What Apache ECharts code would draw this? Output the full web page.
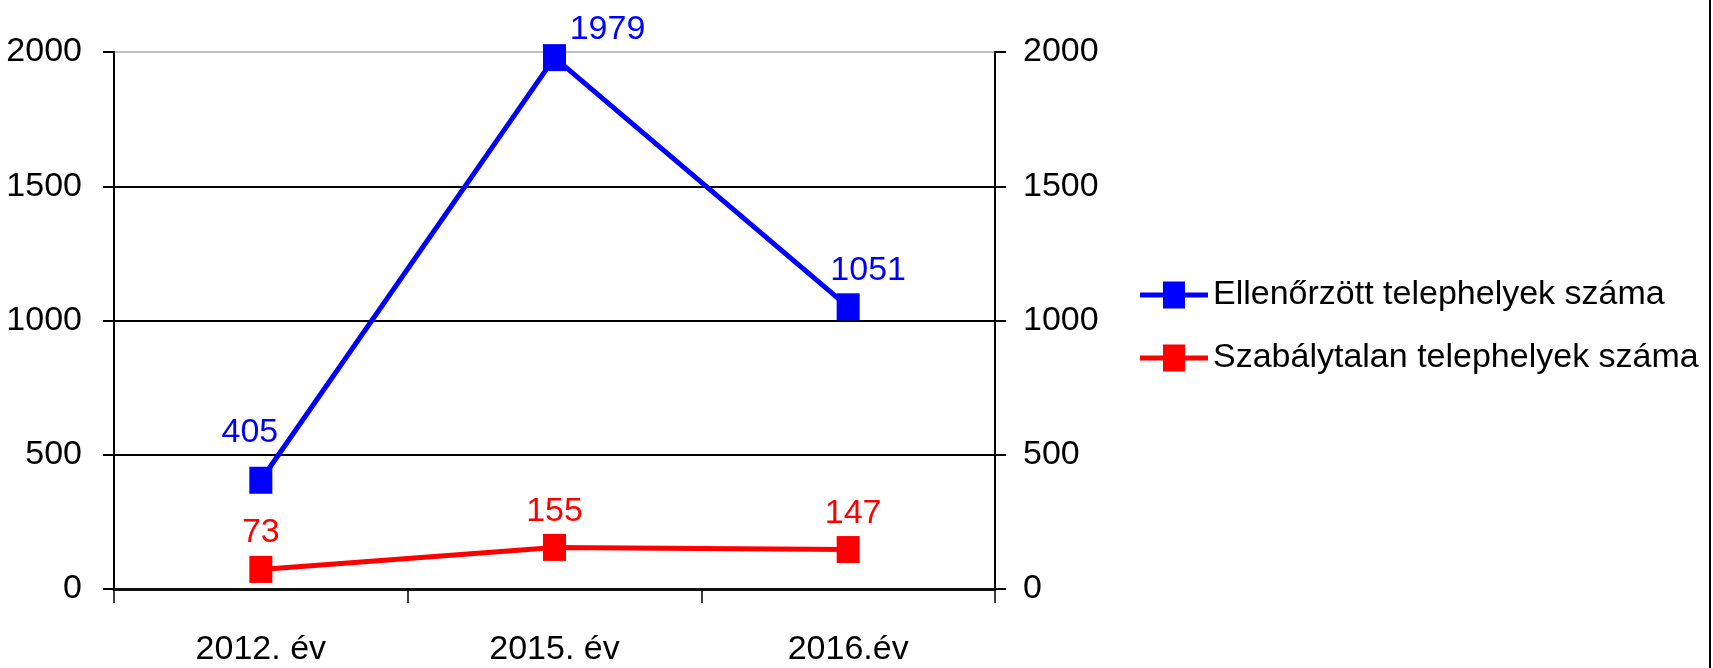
<!DOCTYPE html>
<html>
<head>
<meta charset="utf-8">
<script src="https://cdn.jsdelivr.net/npm/echarts@6/dist/echarts.min.js"></script>
<style>
  html, body { margin: 0; padding: 0; background: #fff; }
  #chart { width: 1713px; height: 668px; }
</style>
</head>
<body>
<div id="chart"></div>
<script>
  // adatok
  var categories = ['2012. év', '2015. év', '2016.év'];
  var ellenorzott = [405, 1979, 1051];
  var szabalytalan = [73, 155, 147];
  var seriesNames = ['Ellenőrzött telephelyek száma', 'Szabálytalan telephelyek száma'];

  var font = '"Liberation Sans", Arial, sans-serif';
  var fontSize = 34;

  // címkék eltolása pontonként
  var blueOffsets = [[-11, -12], [53, 7], [20, -1]];
  var redOffsets = [[0, -1], [0, 0], [5, 0]];

  // vonal + négyzet ikon a jelmagyarázathoz
  var legendIcon = 'path://M0,11h23v-11h22v11h23v5h-23v11h-22v-11h-23z';

  function withLabels (values, offsets) {
    return values.map(function (v, i) {
      return { value: v, label: { offset: offsets[i] } };
    });
  }

  function plain (v) {
    return String(v);
  }

  var myChart = echarts.init(document.getElementById('chart'));

  var yAxisBase = {
    type: 'value',
    min: 0,
    max: 2000,
    interval: 500,
    axisLine: { show: true, lineStyle: { color: '#000', width: 2 } },
    axisTick: { show: true, inside: false, length: 11, lineStyle: { color: '#000', width: 2 } }
  };

  var option = {
    animation: false,
    backgroundColor: '#fff',
    textStyle: { fontFamily: font },
    grid: {
      left: 114,
      right: 718,
      top: 52,
      bottom: 79,
      containLabel: false,
      outerBoundsMode: 'none'
    },
    legend: {
      orient: 'vertical',
      left: 1135,
      top: 273,
      itemWidth: 68,
      itemHeight: 27,
      itemGap: 29,
      textStyle: { fontSize: fontSize, color: '#000', fontFamily: font },
      data: [
        { name: seriesNames[0], icon: legendIcon },
        { name: seriesNames[1], icon: legendIcon }
      ]
    },
    xAxis: {
      type: 'category',
      data: categories,
      boundaryGap: true,
      axisLine: { lineStyle: { color: '#111', width: 3 } },
      axisTick: { show: true, length: 14, lineStyle: { color: '#000', width: 1.5 } },
      axisLabel: { fontSize: fontSize, color: '#000', margin: 44 }
    },
    yAxis: [
      Object.assign({}, yAxisBase, {
        position: 'left',
        axisLabel: { fontSize: fontSize, color: '#000', margin: 32, formatter: plain },
        splitLine: {
          show: true,
          lineStyle: { color: ['#000', '#000', '#000', '#000', '#c0c0c0'], width: 2 }
        }
      }),
      Object.assign({}, yAxisBase, {
        position: 'right',
        axisLabel: { fontSize: fontSize, color: '#000', margin: 28, formatter: plain },
        splitLine: { show: false }
      })
    ],
    series: [
      {
        name: seriesNames[0],
        type: 'line',
        data: withLabels(ellenorzott, blueOffsets),
        symbol: 'rect',
        symbolSize: [23, 27],
        color: '#0000ff',
        lineStyle: { color: '#0000ff', width: 5 },
        itemStyle: { color: '#0000ff' },
        label: { show: true, position: 'top', fontSize: fontSize, color: '#0000ff', fontFamily: font }
      },
      {
        name: seriesNames[1],
        type: 'line',
        data: withLabels(szabalytalan, redOffsets),
        symbol: 'rect',
        symbolSize: [23, 27],
        color: '#ff0000',
        lineStyle: { color: '#ff0000', width: 5 },
        itemStyle: { color: '#ff0000' },
        label: { show: true, position: 'top', fontSize: fontSize, color: '#ff0000', fontFamily: font }
      }
    ],
    graphic: [
      {
        type: 'rect',
        right: 2,
        top: 0,
        shape: { width: 2, height: 668 },
        style: { fill: '#000' }
      }
    ]
  };

  myChart.setOption(option);
</script>
</body>
</html>
